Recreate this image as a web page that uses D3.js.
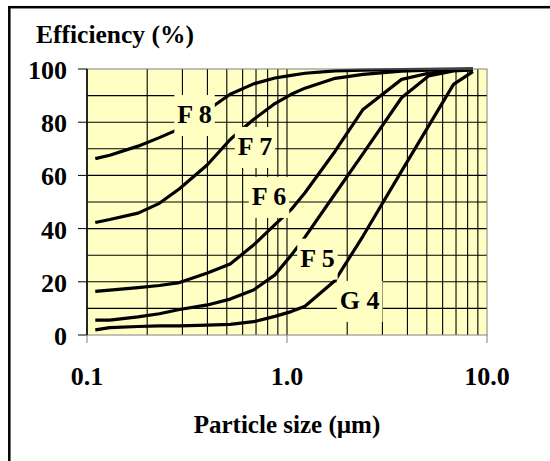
<!DOCTYPE html>
<html>
<head>
<meta charset="utf-8">
<script src="https://cdn.jsdelivr.net/npm/d3@7"></script>
<style>
  body { margin: 0; background: #fff; }
  text { font-family: "Liberation Serif", "Times New Roman", serif; font-weight: bold; fill: #000; }
</style>
</head>
<body>
<div id="chart"></div>
<script>
// particle sizes (um) shared by every filter class
const sizes = [0.11, 0.13, 0.18, 0.23, 0.29, 0.4, 0.52, 0.68, 0.87, 1.05, 1.23, 1.74, 2.4, 3.74, 5.1, 6.8, 8.5];

// efficiency (%) per filter class
const effF8 = [66.3, 67.6, 71.0, 74.2, 77.5, 84.5, 90.5, 94.4, 96.6, 97.6, 98.4, 99.3, 99.6, 99.8, 99.9, 100, 100];
const effF7 = [42.3, 43.4, 45.8, 49.5, 55.0, 64.0, 73.5, 81.0, 87.0, 90.5, 92.8, 96.5, 98.0, 99.2, 99.6, 99.8, 100];
const effF6 = [16.4, 16.9, 17.8, 18.6, 19.7, 23.3, 26.7, 33.8, 41.5, 47.2, 53.5, 69.1, 84.8, 96.1, 98.4, 99.5, 99.8];
const effF5 = [5.6, 5.6, 6.8, 8.0, 9.6, 11.3, 13.5, 16.9, 22.6, 30.0, 36.8, 53.1, 68.2, 89.2, 97.4, 99.3, 99.7];
const effG4 = [1.9, 2.8, 3.2, 3.4, 3.4, 3.7, 4.0, 5.0, 7.0, 8.8, 10.8, 20.5, 37.2, 61.6, 78.5, 94.2, 99.0];

const seriesNames = ["F 8", "F 7", "F 6", "F 5", "G 4"];
const seriesValues = [effF8, effF7, effF6, effF5, effG4];
// label anchors in data units (size, efficiency at text baseline)
const labelSize = [0.345, 0.692, 0.813, 1.42, 2.31];
const labelEff = [79.7, 67.7, 48.9, 25.7, 9.8];

const yTicks = [0, 20, 40, 60, 80, 100];
const xTicks = [0.1, 1, 10];
const xTickText = ["0.1", "1.0", "10.0"];

const W = 550, H = 461;
const svg = d3.select("#chart").append("svg").attr("width", W).attr("height", H);

// outer frame (runs past the right and bottom edges)
svg.append("rect").attr("x", 9.3).attr("y", 7.2).attr("width", 560).attr("height", 480)
  .attr("fill", "#fff").attr("stroke", "#000").attr("stroke-width", 2.5);

const x = d3.scaleLog().domain([0.1, 10]).range([87, 487]);
const y = d3.scaleLinear().domain([0, 100]).range([335, 69]);
const plotBg = "#FFFFC4";

svg.append("rect").attr("x", x(0.1)).attr("y", y(100))
  .attr("width", x(10) - x(0.1)).attr("height", y(0) - y(100)).attr("fill", plotBg);

// grid
const grid = svg.append("g").attr("stroke", "#000").attr("stroke-width", 1.1);
grid.selectAll("line.h").data(d3.range(10, 100, 10)).join("line")
  .attr("x1", x(0.1)).attr("x2", x(10)).attr("y1", d => y(d)).attr("y2", d => y(d));
grid.selectAll("line.v").data(x.ticks().filter(d => d > 0.1 && d < 10)).join("line")
  .attr("x1", d => x(d)).attr("x2", d => x(d)).attr("y1", y(0)).attr("y2", y(100));

// curves
const line = d3.line().x(d => x(d[0])).y(d => y(d[1]));
svg.append("g").selectAll("path").data(seriesValues).join("path")
  .attr("d", vals => line(sizes.map((s, i) => [s, vals[i]])))
  .attr("fill", "none").attr("stroke", "#000").attr("stroke-width", 3.2)
  .attr("stroke-linejoin", "round");

// curve labels with background boxes
const labels = svg.append("g");
seriesNames.forEach((name, i) => {
  const cx = x(labelSize[i]), by = y(labelEff[i]);
  const g = labels.append("g");
  const t = g.append("text").attr("x", cx).attr("y", by).attr("text-anchor", "middle")
    .attr("font-size", 26).text(name);
  const bb = t.node().getBBox();
  g.insert("rect", "text").attr("x", bb.x - 3).attr("width", bb.width + 6)
    .attr("y", by - 28).attr("height", 41).attr("fill", plotBg);
});

// plot border and axes
svg.append("rect").attr("x", x(0.1)).attr("y", y(100))
  .attr("width", x(10) - x(0.1)).attr("height", y(0) - y(100))
  .attr("fill", "none").attr("stroke", "#808080").attr("stroke-width", 1);
svg.append("line").attr("x1", x(0.1)).attr("x2", x(0.1)).attr("y1", y(0)).attr("y2", y(100))
  .attr("stroke", "#000").attr("stroke-width", 1.6);

svg.append("g").selectAll("line").data(yTicks).join("line")
  .attr("x1", x(0.1) - 9).attr("x2", x(0.1)).attr("y1", d => y(d)).attr("y2", d => y(d))
  .attr("stroke", "#000").attr("stroke-width", 1);
svg.append("g").selectAll("line").data(xTicks).join("line")
  .attr("x1", d => x(d)).attr("x2", d => x(d)).attr("y1", y(0)).attr("y2", y(0) + 8)
  .attr("stroke", "#808080").attr("stroke-width", 1);

svg.append("g").selectAll("text").data(yTicks).join("text")
  .attr("x", 67).attr("y", d => y(d) + 10).attr("text-anchor", "end")
  .attr("font-size", 26).text(d => d);
svg.append("g").selectAll("text").data(xTicks).join("text")
  .attr("x", d => x(d)).attr("y", 385).attr("text-anchor", "middle")
  .attr("font-size", 26).text((d, i) => xTickText[i]);

svg.append("text").attr("x", 36).attr("y", 43).attr("font-size", 25.5).text("Efficiency (%)");
svg.append("text").attr("x", (x(0.1) + x(10)) / 2).attr("y", 433).attr("text-anchor", "middle")
  .attr("font-size", 25).text("Particle size (\u00b5m)");
</script>
</body>
</html>
